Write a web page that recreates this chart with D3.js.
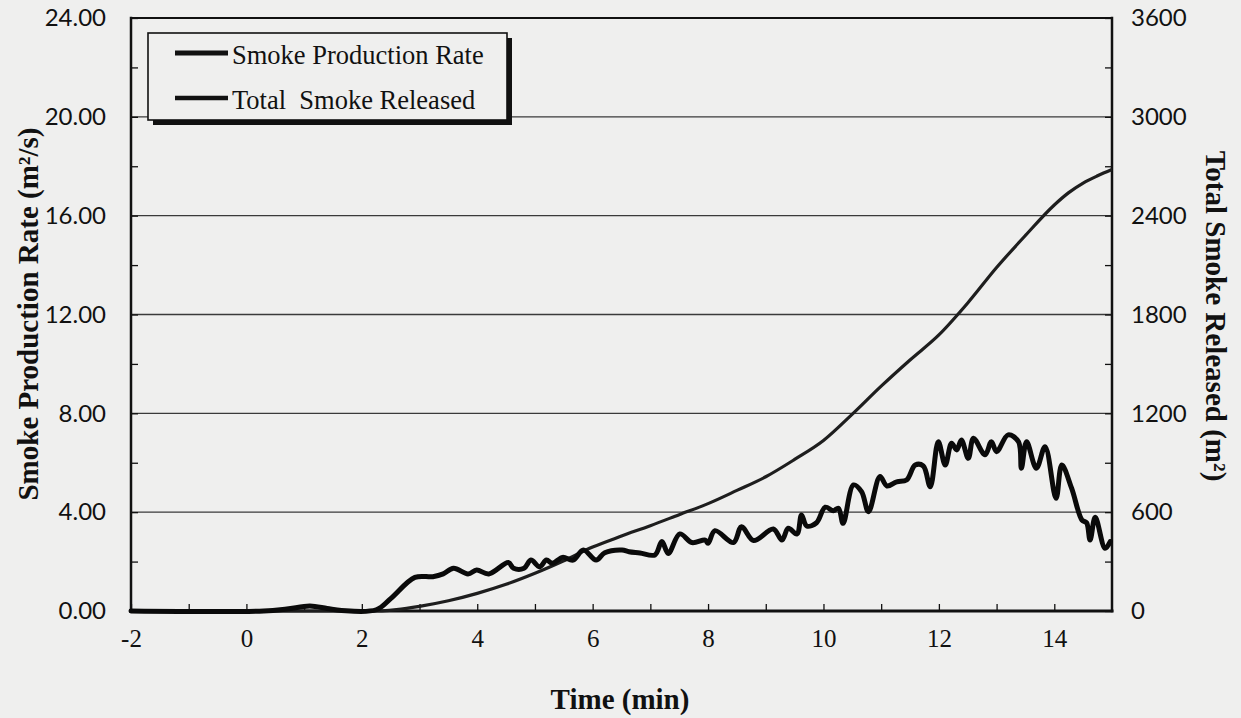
<!DOCTYPE html>
<html>
<head>
<meta charset="utf-8">
<script src="https://cdn.jsdelivr.net/npm/d3@7"></script>
<style>
  html, body { margin: 0; padding: 0; background: #efefee; }
  svg { display: block; }
  text { white-space: pre; }
</style>
</head>
<body>
<svg id="chart" width="1241" height="718"></svg>
<script>
// Smoke production rate (m²/s) against time (min)
const rateTime = [-2, 0.3, 0.7, 1.1, 1.4, 1.65, 2.25, 2.5, 2.92, 3.23, 3.41, 3.59, 3.84, 3.99, 4.20, 4.54, 4.63, 4.81, 4.93, 5.08, 5.20, 5.30, 5.48, 5.66, 5.84, 6.06, 6.21, 6.51, 6.63, 6.82, 7.08, 7.20, 7.31, 7.51, 7.72, 7.95, 8.00, 8.12, 8.44, 8.58, 8.79, 9.13, 9.28, 9.39, 9.54, 9.62, 9.71, 9.88, 10.03, 10.17, 10.26, 10.34, 10.52, 10.66, 10.78, 10.98, 11.10, 11.27, 11.44, 11.59, 11.73, 11.85, 11.99, 12.11, 12.22, 12.31, 12.39, 12.51, 12.60, 12.80, 12.91, 13.00, 13.20, 13.38, 13.43, 13.52, 13.69, 13.84, 14.03, 14.13, 14.30, 14.48, 14.56, 14.62, 14.71, 14.88, 14.97];
const rateValue = [0, 0, 0.08, 0.2, 0.1, 0.02, 0.05, 0.5, 1.36, 1.39, 1.50, 1.73, 1.50, 1.66, 1.50, 1.96, 1.73, 1.73, 2.06, 1.79, 2.06, 1.93, 2.17, 2.06, 2.47, 2.06, 2.36, 2.47, 2.40, 2.35, 2.27, 2.81, 2.33, 3.12, 2.77, 2.87, 2.74, 3.25, 2.77, 3.41, 2.85, 3.32, 2.87, 3.35, 3.12, 3.89, 3.44, 3.57, 4.20, 4.06, 4.16, 3.55, 5.10, 4.83, 4.02, 5.44, 5.06, 5.23, 5.30, 5.91, 5.87, 5.03, 6.85, 5.91, 6.79, 6.52, 6.92, 6.18, 6.99, 6.32, 6.85, 6.45, 7.13, 6.85, 5.78, 6.85, 5.78, 6.65, 4.56, 5.91, 4.97, 3.68, 3.57, 2.87, 3.79, 2.54, 2.81];

// Total smoke released (m²) against time (min)
const totalTime = [-2, 2.3, 2.6, 3.0, 3.5, 4.0, 4.5, 5.0, 5.5, 6.0, 6.5, 7.0, 7.5, 8.0, 8.5, 9.0, 9.5, 10.0, 10.5, 11.0, 11.5, 12.0, 12.5, 13.0, 13.5, 14.0, 14.25, 14.5, 14.75, 15.0];
const totalValue = [0, 0, 8, 28, 62, 107, 162, 229, 305, 388, 455, 518, 585, 652, 732, 815, 920, 1035, 1195, 1365, 1524, 1676, 1870, 2085, 2280, 2465, 2540, 2598, 2642, 2680];

// Axis ticks
const timeTicks = [-2, -1, 0, 1, 2, 3, 4, 5, 6, 7, 8, 9, 10, 11, 12, 13, 14];
const timeLabels = [-2, 0, 2, 4, 6, 8, 10, 12, 14];
const rateTicks = [0, 2, 4, 6, 8, 10, 12, 14, 16, 18, 20, 22, 24];
const rateLabels = [0, 4, 8, 12, 16, 20, 24];
const totalTicks = [0, 300, 600, 900, 1200, 1500, 1800, 2100, 2400, 2700, 3000, 3300, 3600];
const totalLabels = [0, 600, 1200, 1800, 2400, 3000, 3600];

const seriesNames = ["Smoke Production Rate", "Total  Smoke Released"];

const L = 131, R = 1112, T = 18, B = 611;
const ink = "#111";

const svg = d3.select("#chart");

const x = d3.scaleLinear().domain([-2, 15]).range([L, R]);
const yRate = d3.scaleLinear().domain([0, 24]).range([B, T]);
const yTotal = d3.scaleLinear().domain([0, 3600]).range([B, T]);

// Horizontal grid lines at labelled rate values
svg.append("g")
  .selectAll("line")
  .data(rateLabels.filter(v => v > 0 && v < 24))
  .join("line")
  .attr("x1", L).attr("x2", R)
  .attr("y1", d => yRate(d)).attr("y2", d => yRate(d))
  .attr("stroke", "#3a3a3a").attr("stroke-width", 1.3);

// Axes with inward ticks
const serif = "'Liberation Serif', 'Times New Roman', serif";
const numFont = "Lato, 'Open Sans', sans-serif";

const gx = svg.append("g").attr("transform", `translate(0,${B})`)
  .call(d3.axisBottom(x).tickValues(timeTicks).tickSizeInner(-7).tickSizeOuter(0).tickPadding(18)
    .tickFormat(d => timeLabels.includes(d) ? String(d) : ""));
gx.selectAll("text").attr("font-family", serif).attr("font-size", 25).attr("fill", ink);

const gl = svg.append("g").attr("transform", `translate(${L},0)`)
  .call(d3.axisLeft(yRate).tickValues(rateTicks).tickSizeInner(-7).tickSizeOuter(0).tickPadding(25)
    .tickFormat(d => rateLabels.includes(d) ? d3.format(".2f")(d) : ""));
gl.selectAll("text").attr("font-family", numFont).attr("font-size", 24).attr("fill", ink);

const gr = svg.append("g").attr("transform", `translate(${R},0)`)
  .call(d3.axisRight(yTotal).tickValues(totalTicks).tickSizeInner(-7).tickSizeOuter(0).tickPadding(19)
    .tickFormat(d => totalLabels.includes(d) ? String(d) : ""));
gr.selectAll("text").attr("font-family", numFont).attr("font-size", 24).attr("fill", ink);

[gx, gl, gr].forEach(g => {
  g.select(".domain").remove();
  g.selectAll(".tick line").attr("stroke", ink).attr("stroke-width", 1.3);
});

// Plot frame
const frame = svg.append("g").attr("stroke", ink).attr("stroke-linecap", "square");
frame.append("line").attr("x1", L).attr("x2", R).attr("y1", T).attr("y2", T).attr("stroke-width", 2);
frame.append("line").attr("x1", L).attr("x2", L).attr("y1", T).attr("y2", B).attr("stroke-width", 2.5);
frame.append("line").attr("x1", R).attr("x2", R).attr("y1", T).attr("y2", B).attr("stroke-width", 2.5);
frame.append("line").attr("x1", L).attr("x2", R).attr("y1", B).attr("y2", B).attr("stroke-width", 3);

// Series
const rateLine = d3.line().x((d, i) => x(rateTime[i])).y(d => yRate(d)).curve(d3.curveCatmullRom.alpha(0.5));
const totalLine = d3.line().x((d, i) => x(totalTime[i])).y(d => yTotal(d)).curve(d3.curveMonotoneX);

svg.append("path").datum(totalValue)
  .attr("d", totalLine)
  .attr("fill", "none").attr("stroke", "#1e1e1e").attr("stroke-width", 3.2)
  .attr("stroke-linejoin", "round");

svg.append("path").datum(rateValue)
  .attr("d", rateLine)
  .attr("fill", "none").attr("stroke", "#0a0a0a").attr("stroke-width", 5)
  .attr("stroke-linejoin", "round").attr("stroke-linecap", "round");

// Legend with drop shadow
const lg = svg.append("g");
lg.append("rect").attr("x", 153).attr("y", 38).attr("width", 359).attr("height", 87).attr("fill", ink);
lg.append("rect").attr("x", 148).attr("y", 33).attr("width", 359).attr("height", 87)
  .attr("fill", "#efefee").attr("stroke", ink).attr("stroke-width", 1.6);
const rows = [
  { name: seriesNames[0], y: 53, w: 5 },
  { name: seriesNames[1], y: 98, w: 4.5 }
];
rows.forEach(r => {
  lg.append("line").attr("x1", 175).attr("x2", 228).attr("y1", r.y).attr("y2", r.y)
    .attr("stroke", ink).attr("stroke-width", r.w);
  lg.append("text").attr("x", 232).attr("y", r.y + 11)
    .attr("font-family", serif).attr("font-size", 26.5).attr("fill", ink)
    .text(r.name);
});

// Axis titles
svg.append("text")
  .attr("transform", "translate(38,314) rotate(-90)")
  .attr("text-anchor", "middle")
  .attr("font-family", serif).attr("font-weight", "bold").attr("font-size", 29).attr("fill", ink)
  .text("Smoke Production Rate (m²/s)");

svg.append("text")
  .attr("transform", "translate(1206,316) rotate(90)")
  .attr("text-anchor", "middle")
  .attr("font-family", serif).attr("font-weight", "bold").attr("font-size", 29).attr("fill", ink)
  .text("Total Smoke Released (m²)");

svg.append("text")
  .attr("x", 620).attr("y", 709)
  .attr("text-anchor", "middle")
  .attr("font-family", serif).attr("font-weight", "bold").attr("font-size", 29).attr("fill", ink)
  .text("Time (min)");
</script>
</body>
</html>
